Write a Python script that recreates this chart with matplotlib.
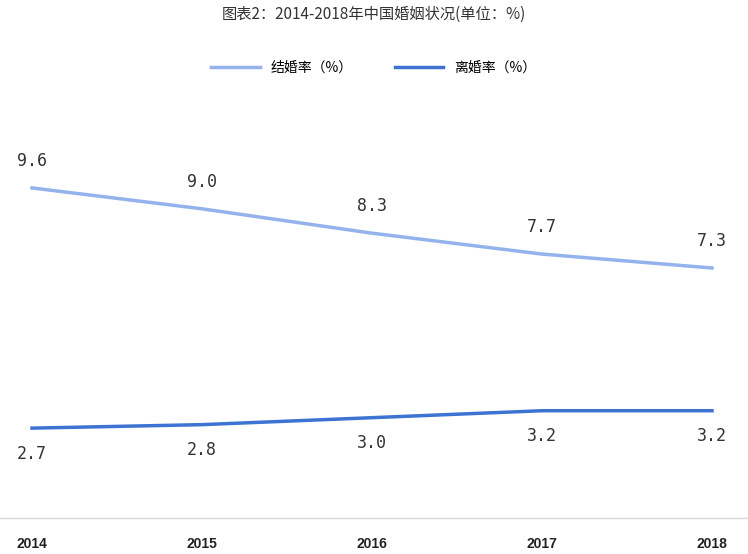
import matplotlib
matplotlib.use("Agg")
import matplotlib.pyplot as plt
from matplotlib.lines import Line2D

plt.rcParams['font.family'] = ['Noto Sans CJK SC', 'DejaVu Sans']

years = [2014, 2015, 2016, 2017, 2018]
marriage = [9.6, 9.0, 8.3, 7.7, 7.3]
divorce = [2.7, 2.8, 3.0, 3.2, 3.2]
c1, c2 = '#94b3ec', '#3d73d2'

fig = plt.figure(figsize=(7.48, 5.54), dpi=100)
ax = fig.add_axes([32/748, 1-452.5/554, 680/748, 278.5/554])
ax.set_xlim(2014, 2018)
ax.set_ylim(2, 10)
ax.plot(years, marriage, color=c1, lw=2.5, clip_on=False, label='结婚率（%）')
ax.plot(years, divorce, color=c2, lw=2.5, clip_on=False, label='离婚率（%）')
for x, v in zip(years, marriage):
    ax.annotate(f'{v:.1f}', (x, v), xytext=(0, 13), textcoords='offset points',
                ha='center', va='bottom', fontsize=12, color='#333333', family='DejaVu Sans Mono')
for x, v in zip(years, divorce):
    ax.annotate(f'{v:.1f}', (x, v), xytext=(0, -12), textcoords='offset points',
                ha='center', va='top', fontsize=12, color='#333333', family='DejaVu Sans Mono')
for s in ax.spines.values():
    s.set_visible(False)
ax.set_yticks([])
ax.set_xticks(years)
ax.set_xticklabels([str(y) for y in years], fontsize=10, fontweight='bold', color='#222222',
                   family='Liberation Sans')
ax.tick_params(axis='x', length=0, pad=61)
fig.add_artist(Line2D([0, 1], [1-518/554]*2, color='#d9d9d9', lw=1))
fig.text(0.5, 1-14/554, '图表2：2014-2018年中国婚姻状况(单位：%)', ha='center', va='center',
         fontsize=11, color='#333333')
fig.legend(loc='center', bbox_to_anchor=(0.5, 1-68/554), ncol=2, frameon=False,
           fontsize=10, handlelength=3.5, columnspacing=3)
fig.savefig('out.png', dpi=100)
